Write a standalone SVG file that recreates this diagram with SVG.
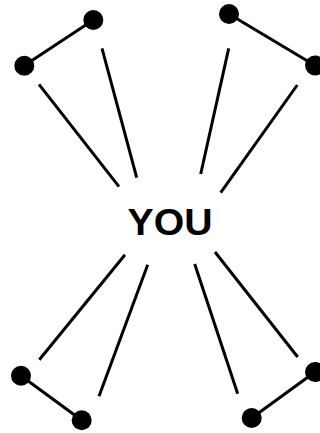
<svg xmlns="http://www.w3.org/2000/svg" width="320" height="433" viewBox="0 0 320 433">
<style>
.l{stroke:#000;stroke-width:3;fill:none}
.d{fill:#000}
.t{font-family:"Liberation Sans",Arial,sans-serif;font-weight:bold;font-size:37px;fill:#000}
</style>
<rect width="320" height="433" fill="#fff"/>
<g id="connectors">
<line class="l" x1="24" y1="65.7" x2="93.3" y2="20"/>
<line class="l" x1="229" y1="14" x2="315" y2="65.5"/>
<line class="l" x1="21" y1="375.7" x2="81.7" y2="420.3"/>
<line class="l" x1="251.7" y1="418" x2="315" y2="372"/>
<line class="l" x1="39" y1="84.3" x2="119" y2="186.7"/>
<line class="l" x1="102" y1="48.3" x2="136.7" y2="177.7"/>
<line class="l" x1="228.7" y1="48.3" x2="200.7" y2="174"/>
<line class="l" x1="297.3" y1="85" x2="220.7" y2="192.7"/>
<line class="l" x1="125" y1="254.7" x2="39.3" y2="359.7"/>
<line class="l" x1="147.7" y1="264.7" x2="99" y2="396.3"/>
<line class="l" x1="194.7" y1="264" x2="237.7" y2="393.7"/>
<line class="l" x1="215" y1="252" x2="297.7" y2="357"/>
</g>
<g id="n1"><circle class="d" cx="93.3" cy="20" r="10"/></g>
<g id="n2"><circle class="d" cx="24.3" cy="65.7" r="10"/></g>
<g id="n3"><circle class="d" cx="229" cy="14" r="10"/></g>
<g id="n4"><circle class="d" cx="315" cy="65.5" r="10"/></g>
<g id="n5"><circle class="d" cx="21" cy="375.7" r="10"/></g>
<g id="n6"><circle class="d" cx="81.7" cy="420.3" r="10"/></g>
<g id="n7"><circle class="d" cx="251.7" cy="418" r="10"/></g>
<g id="n8"><circle class="d" cx="315" cy="372" r="10"/></g>
<g id="you"><text class="t" x="170" y="235" text-anchor="middle" textLength="85" lengthAdjust="spacingAndGlyphs">YOU</text></g>
</svg>
